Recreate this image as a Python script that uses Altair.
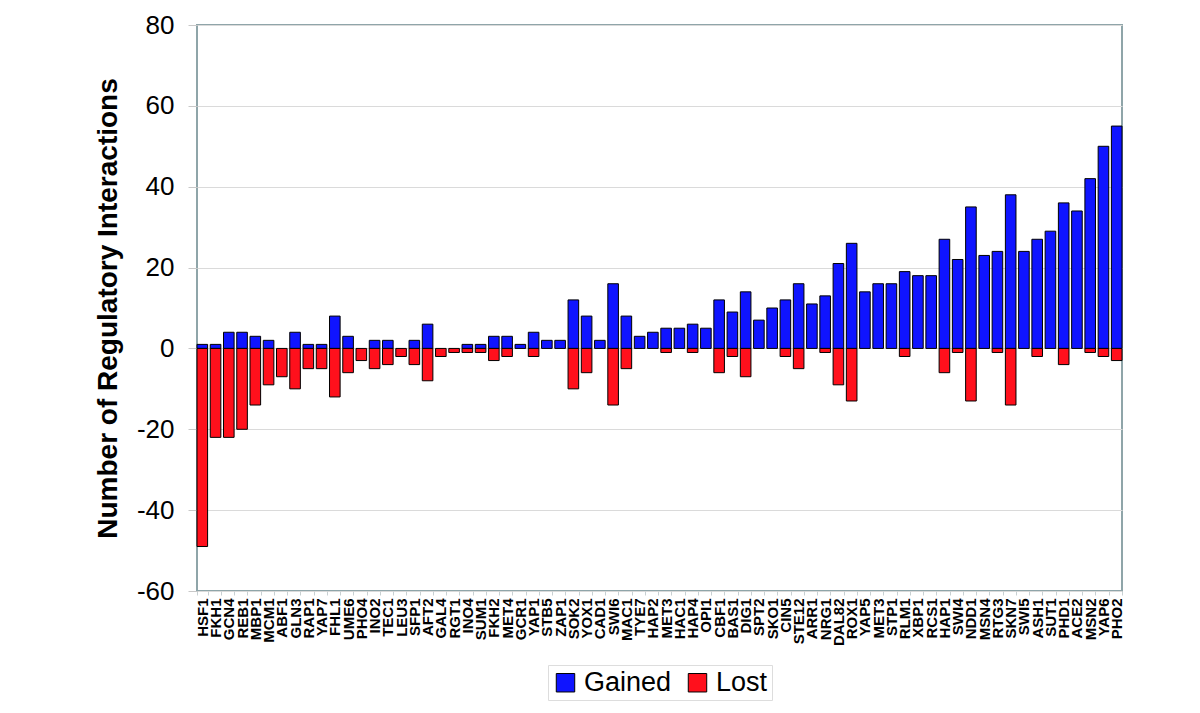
import altair as alt
import pandas as pd

names = ["HSF1", "FKH1", "GCN4", "REB1", "MBP1", "MCM1", "ABF1", "GLN3", "RAP1", "YAP7",
         "FHL1", "UME6", "PHO4", "INO2", "TEC1", "LEU3", "SFP1", "AFT2", "GAL4", "RGT1",
         "INO4", "SUM1", "FKH2", "MET4", "GCR1", "YAP1", "STB5", "ZAP1", "SOK2", "YOX1",
         "CAD1", "SWI6", "MAC1", "TYE7", "HAP2", "MET3", "HAC1", "HAP4", "OPI1", "CBF1",
         "BAS1", "DIG1", "SPT2", "SKO1", "CIN5", "STE12", "ARR1", "NRG1", "DAL82", "ROX1",
         "YAP5", "MET3", "STP1", "RLM1", "XBP1", "RCS1", "HAP1", "SWI4", "NDD1", "MSN4",
         "RTG3", "SKN7", "SWI5", "ASH1", "SUT1", "PHD1", "ACE2", "MSN2", "YAP6", "PHO2"]

gained = [1, 1, 4, 4, 3, 2, 0, 4, 1, 1,
          8, 3, 0, 2, 2, 0, 2, 6, 0, 0,
          1, 1, 3, 3, 1, 4, 2, 2, 12, 8,
          2, 16, 8, 3, 4, 5, 5, 6, 5, 12,
          9, 14, 7, 10, 12, 16, 11, 13, 21, 26,
          14, 16, 16, 19, 18, 18, 27, 22, 35, 23,
          24, 38, 24, 27, 29, 36, 34, 42, 50, 55]

lost = [-49, -22, -22, -20, -14, -9, -7, -10, -5, -5,
        -12, -6, -3, -5, -4, -2, -4, -8, -2, -1,
        -1, -1, -3, -2, 0, -2, 0, 0, -10, -6,
        0, -14, -5, 0, 0, -1, 0, -1, 0, -6,
        -2, -7, 0, 0, -2, -5, 0, -1, -9, -13,
        0, 0, 0, -2, 0, 0, -6, -1, -13, 0,
        -1, -14, 0, -2, 0, -4, 0, -1, -2, -3]

series_names = ["Gained", "Lost"]
series_colors = ["#0f14ff", "#ff101c"]
y_ticks = [-60, -40, -20, 0, 20, 40, 60, 80]

keys = [f"{i:02d}_{n}" for i, n in enumerate(names)]
rows = []
for k, g, l in zip(keys, gained, lost):
    if g != 0:
        rows.append({"key": k, "series": "Gained", "value": g})
    if l != 0:
        rows.append({"key": k, "series": "Lost", "value": l})
df = pd.DataFrame(rows)

FONT = "Liberation Sans"

chart = alt.Chart(df).mark_bar(stroke="black", strokeWidth=1).encode(
    x=alt.X("key:N", sort=keys, title=None,
            scale=alt.Scale(domain=keys, paddingInner=0.2, paddingOuter=0.0),
            axis=alt.Axis(labelExpr="split(datum.value, '_')[1]", labelAngle=270,
                          labelFontSize=15, labelFontWeight="bold", labelFont=FONT,
                          labelColor="black", labelPadding=3, tickSize=4,
                          tickColor="#c8d0d2", tickBand="extent", domain=False,
                          grid=False, labelOverlap=False)),
    y=alt.Y("value:Q", stack=None,
            scale=alt.Scale(domain=[-60, 80], nice=False, zero=False),
            axis=alt.Axis(values=y_ticks, labelExpr="'' + datum.value",
                          title="Number of Regulatory Interactions",
                          titleFontSize=28, titleFontWeight="bold", titleFont=FONT,
                          titleColor="black", titleX=-75, titleY=283,
                          labelFontSize=26, labelFont=FONT, labelColor="black",
                          labelPadding=14, tickSize=9, tickColor="#c8c8c8",
                          domain=False, grid=True, gridColor="#dadada", gridWidth=1)),
    color=alt.Color("series:N",
                    scale=alt.Scale(domain=series_names, range=series_colors),
                    legend=alt.Legend(title=None, orient="none", legendX=351, legendY=640,
                                      direction="horizontal", symbolType="square",
                                      symbolSize=340, symbolStrokeColor="black",
                                      symbolStrokeWidth=1, labelFontSize=27, labelFont=FONT,
                                      labelColor="black", labelOffset=5, columnPadding=12,
                                      strokeColor="#dddddd", padding=4, fillColor="white")),
).properties(
    width=925, height=566,
    autosize=alt.AutoSizeParams(type="none"),
    padding={"left": 189, "top": 17, "right": 60, "bottom": 110},
).configure_view(
    stroke="#8fa5a9", strokeWidth=2
)

chart.save("out.html", embed_options={"renderer": "svg", "actions": False})
